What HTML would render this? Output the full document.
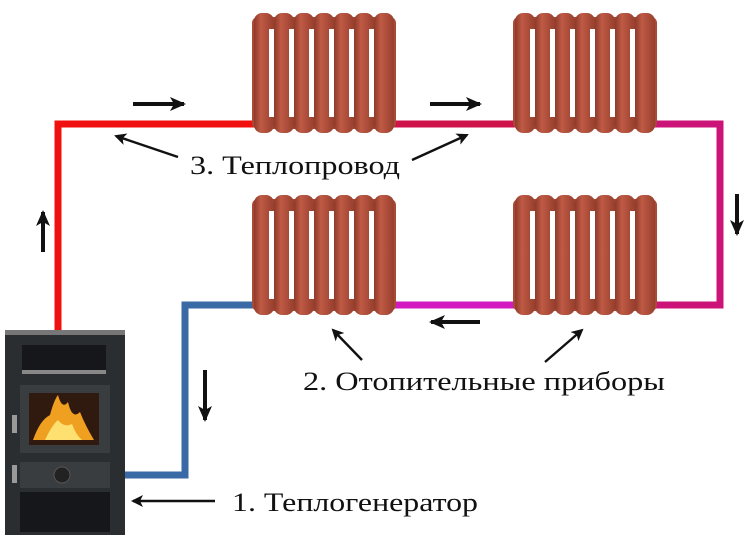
<!DOCTYPE html>
<html><head><meta charset="utf-8"><style>
html,body{margin:0;padding:0;background:#fff;width:750px;height:540px;overflow:hidden}
svg{display:block}
text{font-family:"Liberation Serif","DejaVu Serif",serif;font-size:26px;fill:#111}
</style></head><body>
<svg width="750" height="540" viewBox="0 0 750 540" xmlns="http://www.w3.org/2000/svg">
<defs>
<linearGradient id="col" x1="0" x2="1" y1="0" y2="0">
<stop offset="0" stop-color="#8e3a2a"/><stop offset="0.35" stop-color="#bf5a45"/><stop offset="1" stop-color="#983f2e"/>
</linearGradient>
<g id="rad">
<rect x="0" y="4" width="144" height="112" rx="6" fill="#a94a37"/>
<g fill="url(#col)">
<rect x="2" y="0" width="20" height="120" rx="8"/>
<rect x="22" y="0" width="20" height="120" rx="8"/>
<rect x="42" y="0" width="20" height="120" rx="8"/>
<rect x="62" y="0" width="20" height="120" rx="8"/>
<rect x="82" y="0" width="20" height="120" rx="8"/>
<rect x="102" y="0" width="20" height="120" rx="8"/>
<rect x="122" y="0" width="20" height="120" rx="8"/>
</g>
<g fill="#fff">
<rect x="17" y="16" width="5" height="88"/>
<rect x="37" y="16" width="5" height="88"/>
<rect x="57" y="16" width="5" height="88"/>
<rect x="77" y="16" width="5" height="88"/>
<rect x="97" y="16" width="5" height="88"/>
<rect x="117" y="16" width="5" height="88"/>
</g>
</g>
<marker id="ah" markerWidth="16" markerHeight="14" refX="14" refY="7" orient="auto" markerUnits="userSpaceOnUse">
<path d="M0,0 L16,7 L0,14 L4,7 Z" fill="#111"/></marker>
<marker id="ah2" markerWidth="12" markerHeight="12" refX="10" refY="6" orient="auto" markerUnits="userSpaceOnUse">
<path d="M0,0 L12,6 L0,12 L3,6 Z" fill="#111"/></marker>
</defs>
<g fill="none" stroke-width="7" stroke-linecap="square">
<polyline points="58,330 58,124 255,124" stroke="#f01010"/>
<line x1="393" y1="124" x2="515" y2="124" stroke="#d0124a"/>
<polyline points="655,124 720,124 720,305 655,305" stroke="#cc1478"/>
<line x1="393" y1="305" x2="515" y2="305" stroke="#d21ac0"/>
<polyline points="255,305 185,305 185,475 125,475" stroke="#3a6aa5"/>
</g>
<use href="#rad" x="252" y="13"/>
<use href="#rad" x="513" y="13"/>
<use href="#rad" x="252" y="195"/>
<use href="#rad" x="513" y="195"/>
<rect x="5" y="330" width="120" height="205" fill="#2b2e31"/>
<rect x="5" y="330" width="120" height="5" fill="#777"/>
<rect x="22" y="345" width="84" height="28" fill="#15171a"/>
<rect x="22" y="370" width="84" height="4" fill="#888"/>
<rect x="20" y="385" width="90" height="68" fill="#3a3d40"/>
<rect x="29" y="393" width="70" height="52" fill="#301a10"/>
<path d="M33,440 Q40,420 50,415 Q54,400 58,395 Q62,410 68,402 Q72,420 80,412 Q85,425 94,440 Z" fill="#f0a020"/>
<path d="M45,440 Q52,425 58,420 Q64,428 72,424 Q76,435 82,440 Z" fill="#fde070"/>
<rect x="20" y="462" width="90" height="26" fill="#3a3d40"/>
<circle cx="62" cy="475" r="8" fill="#222" stroke="#555"/>
<rect x="20" y="492" width="90" height="40" fill="#15171a"/>
<rect x="12" y="415" width="5" height="18" fill="#999"/>
<rect x="12" y="465" width="5" height="18" fill="#999"/>
<g stroke="#111" stroke-width="4" marker-end="url(#ah)">
<line x1="133" y1="104" x2="184" y2="104"/>
<line x1="430" y1="104" x2="480" y2="104"/>
<line x1="43" y1="252" x2="43" y2="212"/>
<line x1="737" y1="194" x2="737" y2="234"/>
<line x1="480" y1="322" x2="431" y2="322"/>
<line x1="205" y1="370" x2="205" y2="420"/>
</g>
<g stroke="#111" stroke-width="2.4" marker-end="url(#ah2)">
<line x1="178" y1="157" x2="116" y2="136"/>
<line x1="412" y1="160" x2="467" y2="135"/>
<line x1="362" y1="360" x2="333" y2="330"/>
<line x1="545" y1="362" x2="582" y2="330"/>
<line x1="215" y1="501" x2="133" y2="501"/>
</g>
<text x="190" y="174" textLength="210" lengthAdjust="spacingAndGlyphs">3. Теплопровод</text>
<text x="303" y="390" textLength="362" lengthAdjust="spacingAndGlyphs">2. Отопительные приборы</text>
<text x="232" y="511" textLength="246" lengthAdjust="spacingAndGlyphs">1. Теплогенератор</text>
</svg>
</body></html>
